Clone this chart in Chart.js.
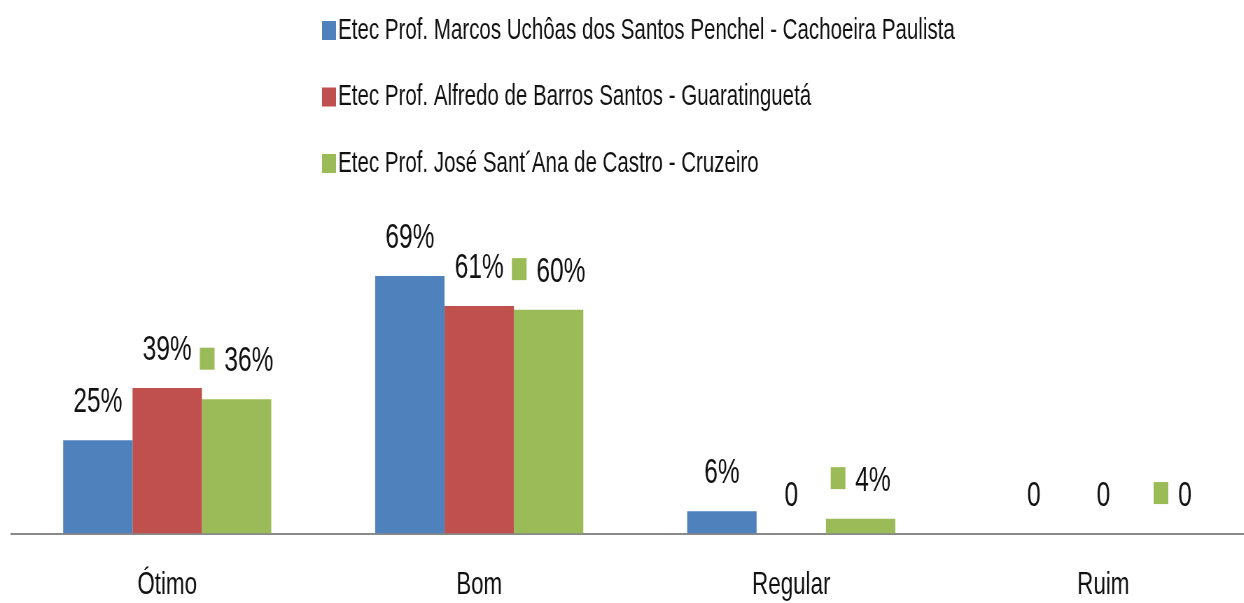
<!DOCTYPE html>
<html><head><meta charset="utf-8">
<script src="https://cdn.jsdelivr.net/npm/chart.js@4.4.1/dist/chart.umd.min.js"></script>
<style>
html,body{margin:0;padding:0;background:#fff;overflow:hidden;width:1244px;height:603px;}
#wrap{position:absolute;left:0;top:0;transform:scaleX(0.7);transform-origin:0 0;}
canvas{display:block;}
</style></head><body>
<div id="wrap"><canvas id="c" width="1800" height="636"></canvas></div>
<script>
const categories = ['Ótimo', 'Bom', 'Regular', 'Ruim'];
const seriesNames = [
  'Etec Prof. Marcos Uchôas dos Santos Penchel - Cachoeira Paulista',
  'Etec Prof. Alfredo de Barros Santos - Guaratinguetá',
  'Etec Prof. José Sant´Ana de Castro - Cruzeiro'
];
const marcosValues = [25, 69, 6, 0];
const alfredoValues = [39, 61, 0, 0];
const joseValues = [36, 60, 4, 0];
const seriesColors = ['#4F81BD', '#C0504D', '#9BBB59'];
const FONT = "'Liberation Sans', Arial, sans-serif";

const legendPlugin = {
  id: 'stackedLegend',
  afterDraw(chart) {
    const ctx = chart.ctx;
    ctx.save();
    ctx.font = '29.3px ' + FONT;
    ctx.textBaseline = 'middle';
    ctx.textAlign = 'left';
    chart.data.datasets.forEach((ds, i) => {
      const y = 30.5 + i * 66.5;
      ctx.fillStyle = ds.backgroundColor;
      ctx.fillRect(460, y - 9.5, 20, 19);
      ctx.fillStyle = '#111';
      ctx.fillText(ds.label, 483, y);
    });
    ctx.restore();
  }
};

const labelPlugin = {
  id: 'valueLabels',
  afterDatasetsDraw(chart) {
    const ctx = chart.ctx;
    const fs = 35;
    ctx.save();
    ctx.font = fs + 'px ' + FONT;
    ctx.textBaseline = 'alphabetic';
    chart.data.datasets.forEach((ds, i) => {
      const meta = chart.getDatasetMeta(i);
      meta.data.forEach((bar, j) => {
        const v = ds.data[j];
        const text = v > 0 ? v + '%' : '0';
        const y = bar.y - 28;
        ctx.fillStyle = '#111';
        if (i === 2) {
          const tw = ctx.measureText(text).width;
          const mw = 21, gap = 14;
          const left = bar.x - (mw + gap + tw) / 2;
          ctx.fillStyle = ds.backgroundColor;
          ctx.fillRect(left, y - 0.358 * fs - 11, mw, 22);
          ctx.fillStyle = '#111';
          ctx.textAlign = 'left';
          ctx.fillText(text, left + mw + gap, y);
        } else {
          ctx.textAlign = 'center';
          ctx.fillText(text, bar.x, y);
        }
      });
    });
    ctx.restore();
  }
};

const datasetsValues = [marcosValues, alfredoValues, joseValues];

new Chart(document.getElementById('c'), {
  type: 'bar',
  data: {
    labels: categories,
    datasets: datasetsValues.map((vals, i) => ({
      label: seriesNames[i],
      data: vals,
      backgroundColor: seriesColors[i],
      borderWidth: 0,
      barPercentage: 1,
      categoryPercentage: 0.667
    }))
  },
  options: {
    responsive: false,
    animation: false,
    devicePixelRatio: 1,
    layout: { padding: { top: 235, left: 16, right: 1, bottom: 0 } },
    plugins: { legend: { display: false }, tooltip: { enabled: false } },
    scales: {
      x: {
        grid: { display: false, drawTicks: false },
        border: { display: true, color: '#898989', width: 2 },
        ticks: { font: { size: 32, family: FONT }, color: '#111', padding: 32 }
      },
      y: { display: false, min: 0, max: 80 }
    }
  },
  plugins: [legendPlugin, labelPlugin]
});
</script>
</body></html>
